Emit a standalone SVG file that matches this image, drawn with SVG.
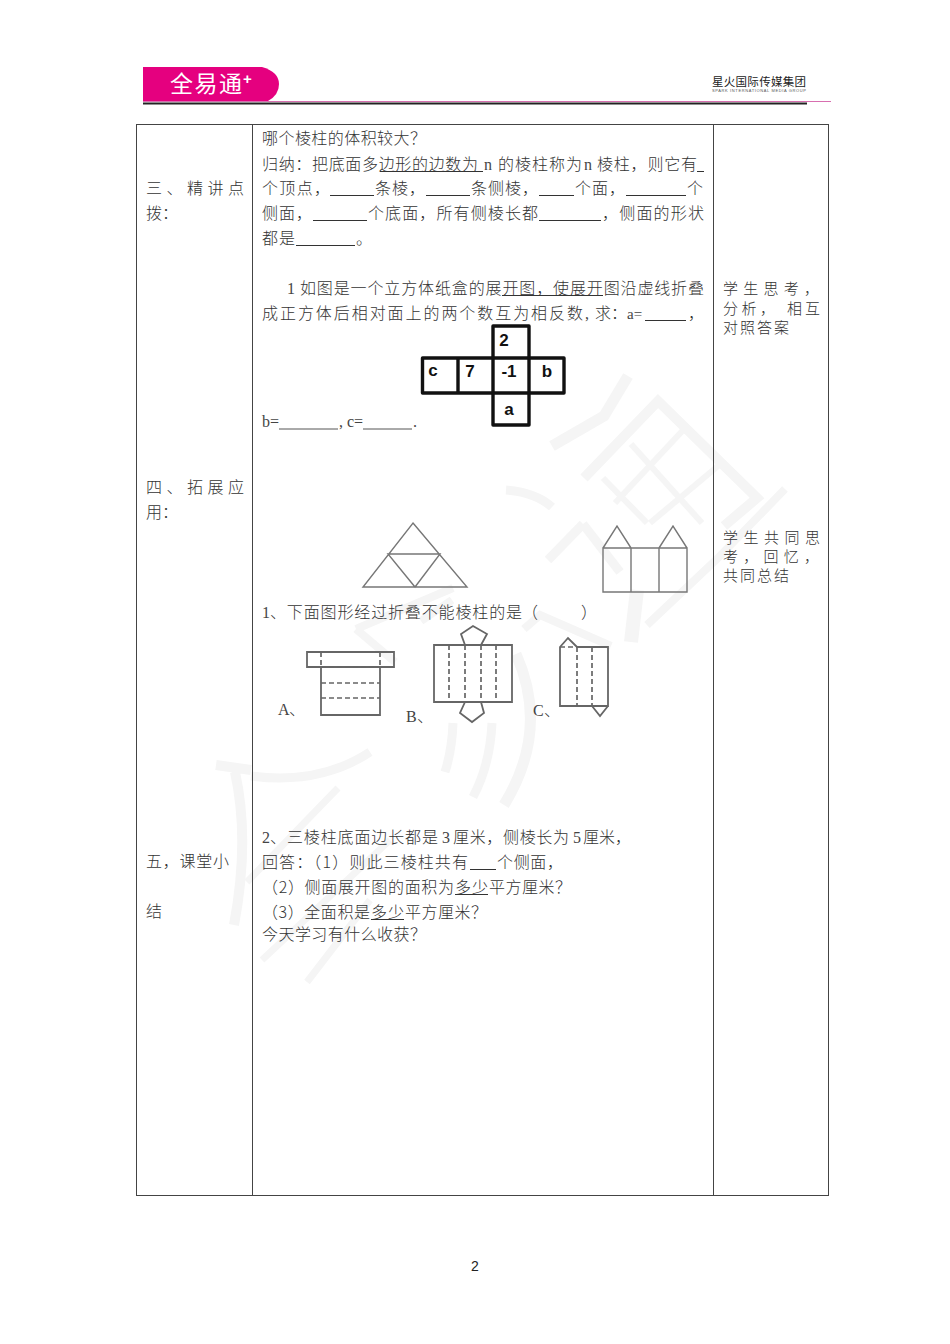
<svg xmlns="http://www.w3.org/2000/svg" width="950" height="1344" viewBox="0 0 950 1344">
<style>
.t{font-family:"Noto Sans CJK SC","Noto Sans",sans-serif;font-size:16px;font-weight:300;fill:#333;}
.r{font-family:"Noto Sans CJK SC","Noto Sans",sans-serif;font-size:15px;font-weight:300;fill:#333;}
.l{font-family:"Liberation Serif",serif;font-size:16px;fill:#444;}
.b{font-family:"Liberation Sans",sans-serif;font-size:17px;font-weight:bold;fill:#111;text-anchor:middle;}
.u{stroke:#333;stroke-width:1;fill:none;}
.w{stroke:#f5f5f5;fill:none;stroke-linecap:butt;stroke-linejoin:miter;}
.g{stroke:#777;stroke-width:1.4;fill:none;}
.s{stroke:#666;stroke-width:1.8;fill:none;}
.d{stroke:#666;stroke-width:1.7;fill:none;stroke-dasharray:5 3;}
.n{stroke:#111;stroke-width:3.4;fill:none;stroke-linejoin:round;}
</style>
<rect width="950" height="1344" fill="#fff"/>
<g id="watermark">
<path class="w" stroke-width="11" d="M628 376L604 416L552 446"/>
<path class="w" stroke-width="10" d="M584 478L658 401L757 498L724 526"/>
<path class="w" stroke-width="6" d="M631 444L702 523M603 478L647 523M686 427L615 503M718 466L650 523"/>
<path class="w" stroke-width="8" d="M785 489L716 560L647 625"/>
<path class="w" stroke-width="14" d="M637 590L631 642"/>
<path class="w" stroke-width="9" d="M506 490Q535 492 552 507"/>
<path class="w" stroke-width="9" d="M583 524L548 560M583 524L620 572"/>
<path class="w" stroke-width="8" d="M356 629L453 588M356 629L395 662M421 621L452 600"/>
<path class="w" stroke-width="8" d="M524 629L540 615L611 646"/>
<path class="w" stroke-width="11" d="M516 654Q550 730 504 805"/>
<path class="w" stroke-width="9" d="M453 723Q452 750 445 772M492 723Q490 765 473 797"/>
<path class="w" stroke-width="10" d="M216 765L251 770M235 772Q250 840 234 925"/>
<path class="w" stroke-width="9" d="M251 776Q320 785 370 752"/>
<path class="w" stroke-width="7" d="M338 788L247 882M370 900L307 982M390 840L262 960"/>
</g>
<g id="header">
<path d="M143 67H262Q279 72 279 84Q279 95 268 101H143Z" fill="#e5007f"/>
<text x="170" y="92" font-size="23" fill="#fff" style="font-family:'Noto Sans CJK SC',sans-serif" textLength="72">全易通</text>
<text x="243" y="84" font-size="15" font-weight="bold" fill="#fff" style="font-family:'Liberation Sans',sans-serif">+</text>
<line x1="143" y1="101.5" x2="831" y2="101.5" stroke="#d86fb0" stroke-width="1"/>
<line x1="143" y1="103.500" x2="807" y2="103.500" stroke="#222" stroke-width="2"/>
<text x="712" y="86" font-size="11.500" fill="#222" style="font-family:'Noto Sans CJK SC',sans-serif" textLength="94">星火国际传媒集团</text>
<text x="712" y="92" font-size="4" fill="#555" style="font-family:'Liberation Sans',sans-serif" textLength="94">SPARK INTERNATIONAL MEDIA GROUP</text>
</g>
<g id="table" fill="none" stroke="#444" stroke-width="1">
<rect x="136.500" y="124.500" width="692" height="1071"/>
<line x1="252.500" y1="124.500" x2="252.500" y2="1195.500"/>
<line x1="713.500" y1="124.500" x2="713.500" y2="1195.500"/>
</g>
<g id="left-col">
<text class="t" x="146" y="194" textLength="98">三、精讲点</text>
<text class="t" x="146" y="219">拨&#xFF1A;</text>
<text class="t" x="146" y="493" textLength="98">四、拓展应</text>
<text class="t" x="146" y="518">用&#xFF1A;</text>
<text class="t" x="146" y="867" textLength="83">五&#xFF0C;课堂小</text>
<text class="t" x="146" y="917">结</text>
</g>
<g id="right-col">
<text class="r" x="723" y="294" textLength="96">学生思考&#xFF0C;</text>
<text class="r" x="723" y="314" textLength="52">分析&#xFF0C;</text>
<text class="r" x="787" y="314" textLength="33">相互</text>
<text class="r" x="723" y="333" textLength="66">对照答案</text>
<text class="r" x="723" y="543" textLength="97">学生共同思</text>
<text class="r" x="723" y="562" textLength="96">考&#xFF0C;回忆&#xFF0C;</text>
<text class="r" x="723" y="581" textLength="66">共同总结</text>
</g>
<g id="section-1">
<text class="t" x="262" y="144" textLength="164">哪个棱柱的体积较大&#xFF1F;</text>
<text class="t" x="262" y="170" textLength="216">归纳&#xFF1A;把底面多边形的边数为</text>
<text class="l" x="484" y="170">n</text>
<text class="t" x="498" y="170" textLength="84">的棱柱称为</text>
<text class="l" x="584" y="170">n</text>
<text class="t" x="597" y="170" textLength="100">棱柱&#xFF0C;则它有</text>
<line class="u" x1="380" y1="171.500" x2="483" y2="171.500"/>
<line class="u" x1="697" y1="171.500" x2="704" y2="171.500"/>
<text class="t" x="262" y="194" textLength="68">个顶点&#xFF0C;</text>
<line class="u" x1="330" y1="195.500" x2="374" y2="195.500"/>
<text class="t" x="375" y="194" textLength="50">条棱&#xFF0C;</text>
<line class="u" x1="426" y1="195.500" x2="470" y2="195.500"/>
<text class="t" x="471" y="194" textLength="67">条侧棱&#xFF0C;</text>
<line class="u" x1="539" y1="195.500" x2="574" y2="195.500"/>
<text class="t" x="575" y="194" textLength="50">个面&#xFF0C;</text>
<line class="u" x1="626" y1="195.500" x2="686" y2="195.500"/>
<text class="t" x="687" y="194">个</text>
<text class="t" x="262" y="219" textLength="50">侧面&#xFF0C;</text>
<line class="u" x1="313" y1="220.500" x2="367" y2="220.500"/>
<text class="t" x="368" y="219" textLength="170">个底面&#xFF0C;所有侧棱长都</text>
<line class="u" x1="539" y1="220.500" x2="601" y2="220.500"/>
<text class="t" x="602" y="219" textLength="102">&#xFF0C;侧面的形状</text>
<text class="t" x="262" y="244" textLength="33">都是</text>
<line class="u" x1="296" y1="245.500" x2="355" y2="245.500"/>
<text class="t" x="356" y="244">&#x3002;</text>
</g>
<g id="section-2">
<text class="l" x="287" y="294">1</text>
<text class="t" x="300" y="294" textLength="404">如图是一个立方体纸盒的展开图&#xFF0C;使展开图沿虚线折叠</text>
<line class="u" x1="502" y1="295.500" x2="603" y2="295.500"/>
<text class="t" x="262" y="319" textLength="321">成正方体后相对面上的两个数互为相反数</text>
<text class="l" x="585" y="319">,</text>
<text class="t" x="595" y="319">求</text>
<text class="t" x="611" y="319">&#xFF1A;</text>
<text class="l" x="627" y="319" style="font-size:15px">a=</text>
<line class="u" x1="645" y1="320.500" x2="686" y2="320.500"/>
<text class="t" x="688" y="319">&#xFF0C;</text>
<text class="l" x="262" y="427">b=</text>
<line x1="279" y1="429" x2="338" y2="429" stroke="#555"/>
<text class="l" x="339" y="427">, c=</text>
<line x1="363" y1="429" x2="412" y2="429" stroke="#555"/>
<text class="l" x="413" y="427">.</text>
</g>
<g id="cube-net">
<path class="n" d="M493 358V326H529V358M422.500 358H564V393H422.500ZM458 358V393M493 358V425H529V358"/>
<text class="b" x="504" y="346">2</text>
<text class="b" x="433" y="376">c</text>
<text class="b" x="470" y="377">7</text>
<text class="b" x="509" y="377">-1</text>
<text class="b" x="547" y="377">b</text>
<text class="b" x="509" y="415">a</text>
</g>
<g id="triangle-net">
<path class="g" d="M413 523L467 587H363ZM388 554H440L415 587Z"/>
</g>
<g id="house-net">
<path class="g" d="M603 548H687V592H603ZM631 548V592M659 548V592M603 548L617 526L631 548M659 548L673 526L687 548"/>
</g>
<g id="question-1">
<text class="l" x="262" y="618">1</text>
<text class="t" x="270" y="618" textLength="252">、下面图形经过折叠不能棱柱的是</text>
<text class="t" x="522" y="618">&#xFF08;</text>
<text class="t" x="581" y="618">&#xFF09;</text>
</g>
<g id="shape-a">
<path class="s" d="M307 652H394V667H307ZM321 667V715H380V667"/>
<path class="d" d="M321 667H380M321 683H380M321 698H380"/>
<path class="d" stroke-dasharray="3 3" d="M321 652V667M380 652V667"/>
<text class="l" x="278" y="715">A</text><text class="t" x="289" y="715">、</text>
</g>
<g id="shape-b">
<path class="s" d="M434 645H512V702H434ZM465 645L461 634L473 626L487 634L481 645M465 702L460 713L472 722L484 713L481 702"/>
<path class="d" d="M449 645V702M465 645V702M481 645V702M496 645V702"/>
<text class="l" x="406" y="722">B</text><text class="t" x="417" y="722">、</text>
</g>
<g id="shape-c">
<path class="s" d="M560 706V647L568 638L577 647H608V706ZM592 706L600 716L608 706"/>
<path class="d" d="M577 647V706M592 647V706"/>
<path class="d" stroke-dasharray="3 3" d="M560 647H577M592 706H608"/>
<text class="l" x="533" y="716">C</text><text class="t" x="544" y="716">、</text>
</g>
<g id="question-2">
<text class="l" x="262" y="843">2</text>
<text class="t" x="270" y="843" textLength="168">、三棱柱底面边长都是</text>
<text class="l" x="442" y="843">3</text>
<text class="t" x="453" y="843" textLength="116">厘米&#xFF0C;侧棱长为</text>
<text class="l" x="573" y="843">5</text>
<text class="t" x="583" y="843" textLength="48">厘米&#xFF0C;</text>
<text class="t" x="262" y="868" textLength="206">回答&#xFF1A;&#xFF08;1&#xFF09;则此三棱柱共有</text>
<line class="u" x1="470" y1="869.500" x2="496" y2="869.500"/>
<text class="t" x="497" y="868" textLength="66">个侧面&#xFF0C;</text>
<text class="t" x="262" y="893" textLength="192">&#xFF08;2&#xFF09;侧面展开图的面积为</text>
<text class="t" x="455" y="893" textLength="33">多少</text>
<line class="u" x1="455" y1="894.500" x2="488" y2="894.500"/>
<text class="t" x="489" y="893" textLength="82">平方厘米&#xFF1F;</text>
<text class="t" x="262" y="918" textLength="108">&#xFF08;3&#xFF09;全面积是</text>
<text class="t" x="371" y="918" textLength="33">多少</text>
<line class="u" x1="371" y1="919.500" x2="404" y2="919.500"/>
<text class="t" x="405" y="918" textLength="82">平方厘米&#xFF1F;</text>
<text class="t" x="262" y="940" textLength="164">今天学习有什么收获&#xFF1F;</text>
</g>
<text id="page" x="475" y="1271" text-anchor="middle" style="font-family:'Liberation Sans',sans-serif" font-size="14" fill="#222">2</text>
</svg>
